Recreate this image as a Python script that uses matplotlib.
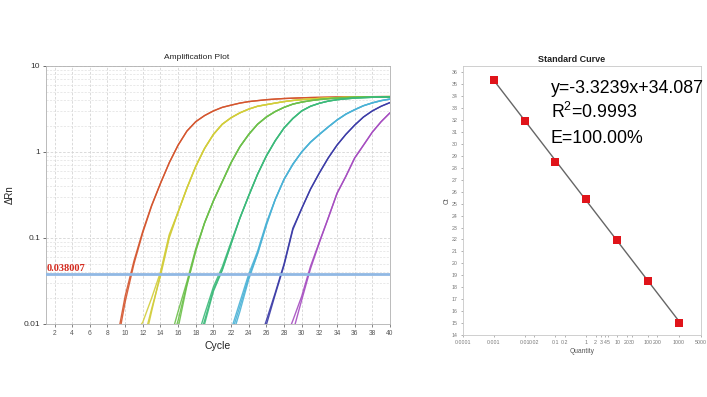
import numpy as np
import matplotlib
matplotlib.use("Agg")
import matplotlib.pyplot as plt
from matplotlib.ticker import FixedLocator, NullFormatter, LogLocator

plt.rcParams['font.family'] = ['Liberation Sans', 'DejaVu Sans']
plt.rcParams['mathtext.fontset'] = 'custom'
plt.rcParams['mathtext.rm'] = 'Liberation Sans'

# ---------------- Amplification plot data (ΔRn per cycle) ----------------
threshold = 0.038007
group_colors = ['#d4542c', '#d2cd3a', '#6cc04a', '#3cba7a', '#4ab2d6', '#3a3aa6', '#a54cc0']

red_start = 9
red_early = [[0.006, 0.021, 0.054, 0.12, 0.24, 0.43],
             [0.005, 0.018, 0.050, 0.115, 0.235, 0.43]]
red_tail = [0.75, 1.2, 1.75, 2.25, 2.65, 3.0, 3.3, 3.5, 3.7, 3.85, 3.95, 4.05, 4.12,
            4.18, 4.22, 4.26, 4.29, 4.31, 4.33, 4.35, 4.36, 4.37, 4.38, 4.39, 4.4, 4.4]

yellow_start = 11
yellow_early = [[0.0075, 0.0105, 0.020, 0.040, 0.11],
                [0.004, 0.006, 0.015, 0.036, 0.10],
                [0.003, 0.005, 0.014, 0.038, 0.105]]
yellow_tail = [0.2, 0.38, 0.68, 1.1, 1.6, 2.1, 2.5, 2.85, 3.15, 3.4, 3.55, 3.7, 3.85,
               3.97, 4.06, 4.13, 4.19, 4.24, 4.28, 4.31, 4.34, 4.36, 4.38, 4.39, 4.4]

green_start = 15
green_early = [[0.006, 0.014, 0.031, 0.075],
               [0.005, 0.011, 0.029, 0.072],
               [0.004, 0.009, 0.028, 0.070]]
green_tail = [0.15, 0.27, 0.45, 0.75, 1.15, 1.6, 2.1, 2.55, 2.95, 3.3, 3.6, 3.8,
              3.95, 4.07, 4.16, 4.23, 4.28, 4.32, 4.35, 4.37, 4.38, 4.39]

seagreen_start = 18
seagreen_early = [[0.006, 0.013, 0.027, 0.046, 0.09],
                  [0.005, 0.011, 0.025, 0.043, 0.085],
                  [0.004, 0.010, 0.024, 0.042, 0.085]]
seagreen_tail = [0.17, 0.31, 0.55, 0.9, 1.35, 1.9, 2.45, 3.0, 3.4, 3.68, 3.9,
                 4.05, 4.15, 4.23, 4.28, 4.32, 4.35, 4.37]

cyan_start = 21
cyan_early = [[0.005, 0.0085, 0.018, 0.038, 0.07, 0.15],
              [0.004, 0.0075, 0.016, 0.035, 0.066, 0.145],
              [0.0035, 0.0065, 0.014, 0.033, 0.065, 0.14]]
cyan_tail = [0.28, 0.48, 0.72, 1.0, 1.3, 1.6, 1.95, 2.35, 2.75, 3.1, 3.45, 3.72, 3.95, 4.12]

blue_start = 25
blue_early = [[0.0055, 0.011, 0.023, 0.05, 0.13],
              [0.0045, 0.0098, 0.022, 0.048, 0.125]]
blue_tail = [0.22, 0.37, 0.57, 0.85, 1.2, 1.6, 2.05, 2.55, 3.0, 3.4, 3.75]

purple_start = 28
purple_early = [[0.006, 0.011, 0.021, 0.047, 0.09],
                [0.0045, 0.008, 0.019, 0.044, 0.088]]
purple_tail = [0.17, 0.33, 0.52, 0.85, 1.2, 1.7, 2.25, 2.85]

groups = [(red_start, red_early, red_tail),
          (yellow_start, yellow_early, yellow_tail),
          (green_start, green_early, green_tail),
          (seagreen_start, seagreen_early, seagreen_tail),
          (cyan_start, cyan_early, cyan_tail),
          (blue_start, blue_early, blue_tail),
          (purple_start, purple_early, purple_tail)]

cycle_ticks = list(range(2, 41, 2))

# ---------------- Standard curve data ----------------
quantity = [0.001, 0.01, 0.1, 1, 10, 100, 1000]
ct_values = [35.36, 31.92, 28.49, 25.42, 21.96, 18.55, 15.03]
qty_ticks = [0.0001, 0.001, 0.01, 0.02, 0.1, 0.2, 1, 2, 3, 4, 5, 10, 20, 30, 100, 200, 1000, 5000]
qty_labels = ['0.0001', '0.001', '0.01', '0.02', '0.1', '0.2', '1', '2', '3', '4', '5',
              '10', '20', '30', '100', '200', '1000', '5000']
ct_ticks = list(range(14, 37))
equation_lines = ['y=-3.3239x+34.087', r'R$^{2}$=0.9993', 'E=100.00%']

fig = plt.figure(figsize=(7.07, 3.97), dpi=100)
fig.patch.set_facecolor('white')

# ---------------- Left: amplification plot ----------------
ax = fig.add_axes([0.0646, 0.1839, 0.4870, 0.6500])
ax.set_yscale('log')
ax.set_xlim(1, 40)
ax.set_ylim(0.01, 10)
for (start, early, tail), col in zip(groups, group_colors):
    for rep in early:
        vals = rep + tail
        cyc = np.arange(start, start + len(vals))
        ax.plot(cyc, vals, color=col, lw=1.0, alpha=0.9, zorder=3,
                solid_joinstyle='round', solid_capstyle='round')
ax.axhline(threshold, color='#90b8e4', lw=2.0, zorder=4)
ax.text(1.1, threshold * 1.04, f'{threshold:.6f}', color='#d42a1e', fontsize=7.5,
        family=['Liberation Serif', 'DejaVu Serif'], fontweight='bold', va='bottom', ha='left', zorder=5)

ax.xaxis.set_major_locator(FixedLocator(cycle_ticks))
ax.yaxis.set_major_locator(FixedLocator([0.01, 0.1, 1, 10]))
ax.set_yticklabels(['0.01', '0.1', '1', '10'])
ax.yaxis.set_minor_locator(LogLocator(base=10, subs=np.arange(2, 10)))
ax.yaxis.set_minor_formatter(NullFormatter())
ax.grid(True, which='major', color='#d4d4d4', ls=(0, (3, 2)), lw=0.6)
ax.grid(True, which='minor', axis='y', color='#e0e0e0', ls=(0, (3, 2)), lw=0.5)
ax.tick_params(axis='x', labelsize=4.8, length=2, width=0.5, colors='#555555', pad=2)
ax.tick_params(axis='y', which='major', labelsize=6, length=2, width=0.5, colors='#333333', pad=2)
ax.tick_params(axis='y', which='minor', length=0)
for s in ax.spines.values():
    s.set_color('#b0b0b0')
    s.set_linewidth(0.6)
ax.set_xlabel('Cycle', fontsize=7.5, color='#222222', labelpad=3)
ax.set_ylabel('ΔRn', fontsize=7, color='#222222', labelpad=6)
fig.text(0.278, 0.856, 'Amplification Plot', fontsize=6, ha='center', va='center', color='#222222')

# ---------------- Right: standard curve ----------------
ax2 = fig.add_axes([0.6545, 0.1562, 0.3365, 0.6768])
ax2.set_xscale('log')
ax2.set_xlim(0.0001, 5000)
ax2.set_ylim(14, 36.5)
slope, intercept = np.polyfit(np.log10(quantity), ct_values, 1)
qx = np.array([quantity[0], quantity[-1]])
ax2.plot(qx, slope * np.log10(qx) + intercept, color='#666666', lw=1.0, zorder=2)
ax2.plot(quantity, ct_values, 's', color='#e0141a', markersize=5.2, zorder=3, markeredgewidth=0)
ax2.xaxis.set_major_locator(FixedLocator(qty_ticks))
ax2.xaxis.set_minor_locator(FixedLocator([]))
ax2.set_xticklabels(qty_labels)
ax2.yaxis.set_major_locator(FixedLocator(ct_ticks))
ax2.tick_params(axis='both', labelsize=3.8, length=1.5, width=0.4, colors='#777777', pad=2)
for s in ax2.spines.values():
    s.set_color('#c8c8c8')
    s.set_linewidth(0.6)
ax2.set_xlabel('Quantity', fontsize=4.8, color='#555555', labelpad=2)
ax2.set_ylabel('Ct', fontsize=4.8, color='#555555', labelpad=1)
fig.text(0.8086, 0.851, 'Standard Curve', fontsize=6.5, fontweight='bold', ha='center', va='center', color='#222222')
for i, line in enumerate(equation_lines):
    fig.text(0.779, 0.766 - i * 0.0625, line, fontsize=12.8, ha='left', va='baseline', color='#000000')

fig.savefig('out.png', dpi=100, facecolor='white')
